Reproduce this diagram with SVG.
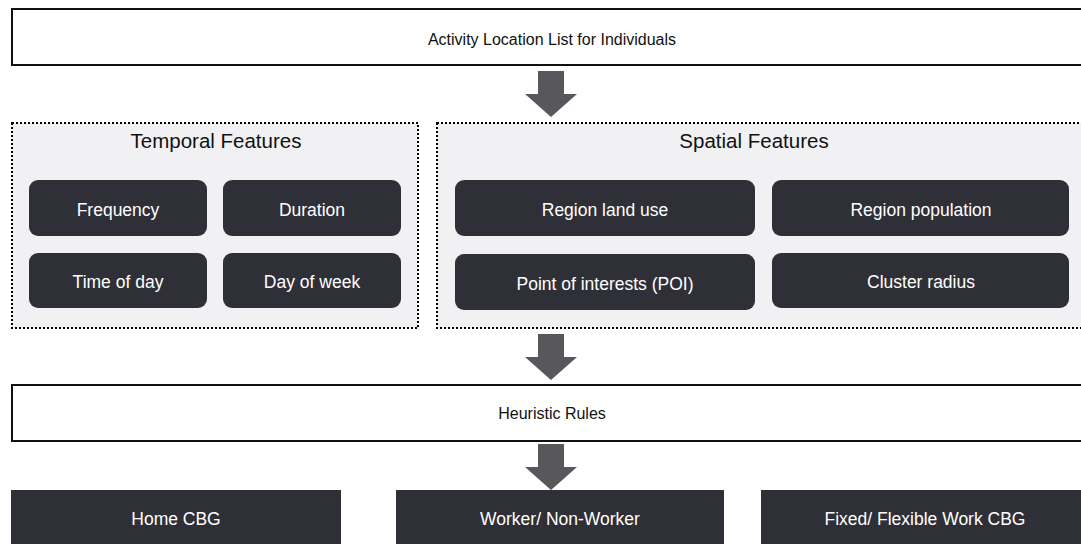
<svg xmlns="http://www.w3.org/2000/svg" width="1081" height="544" viewBox="0 0 1081 544">
  <defs>
    <style>
      .frame { fill: #ffffff; stroke: #111111; stroke-width: 2; }
      .group { fill: #f1f1f3; stroke: #000000; stroke-width: 2; stroke-dasharray: 2 2; }
      .dark { fill: #2f2f37; }
      .arrow { fill: #58585c; }
      .lbl { font-family: "Liberation Sans", Arial, sans-serif; text-anchor: middle; }
      .frame-t { fill: #111111; font-size: 16px; }
      .title-t { fill: #111111; font-size: 20.5px; }
      .box-t { fill: #ffffff; font-size: 17.5px; }
    </style>
  </defs>

  <g id="activity-list">
    <rect class="frame" x="12" y="9" width="1080" height="56"/>
    <text class="lbl frame-t" x="552" y="45">Activity Location List for Individuals</text>
  </g>

  <g id="temporal-features">
    <rect class="group" x="12" y="123" width="406" height="205"/>
    <text class="lbl title-t" x="216" y="148">Temporal Features</text>
  </g>
  <g id="frequency">
    <rect class="dark" x="29" y="180" width="178" height="56" rx="9"/>
    <text class="lbl box-t" x="118" y="216">Frequency</text>
  </g>
  <g id="duration">
    <rect class="dark" x="223" y="180" width="178" height="56" rx="9"/>
    <text class="lbl box-t" x="312" y="216">Duration</text>
  </g>
  <g id="time-of-day">
    <rect class="dark" x="29" y="253" width="178" height="55" rx="9"/>
    <text class="lbl box-t" x="118" y="288">Time of day</text>
  </g>
  <g id="day-of-week">
    <rect class="dark" x="223" y="253" width="178" height="55" rx="9"/>
    <text class="lbl box-t" x="312" y="288">Day of week</text>
  </g>

  <g id="spatial-features">
    <rect class="group" x="437" y="123" width="660" height="205"/>
    <text class="lbl title-t" x="754" y="148">Spatial Features</text>
  </g>
  <g id="region-land-use">
    <rect class="dark" x="455" y="180" width="300" height="56" rx="9"/>
    <text class="lbl box-t" x="605" y="216">Region land use</text>
  </g>
  <g id="region-population">
    <rect class="dark" x="772" y="180" width="297" height="56" rx="9"/>
    <text class="lbl box-t" x="921" y="216">Region population</text>
  </g>
  <g id="poi">
    <rect class="dark" x="455" y="254" width="300" height="56" rx="9"/>
    <text class="lbl box-t" x="605" y="290">Point of interests (POI)</text>
  </g>
  <g id="cluster-radius">
    <rect class="dark" x="772" y="253" width="297" height="55" rx="9"/>
    <text class="lbl box-t" x="921" y="288">Cluster radius</text>
  </g>

  <g id="heuristic-rules">
    <rect class="frame" x="12" y="385" width="1080" height="56"/>
    <text class="lbl frame-t" x="552" y="419">Heuristic Rules</text>
  </g>

  <g id="home-cbg">
    <rect class="dark" x="11" y="490" width="330" height="60"/>
    <text class="lbl box-t" x="176" y="525">Home CBG</text>
  </g>
  <g id="worker">
    <rect class="dark" x="396" y="490" width="328" height="60"/>
    <text class="lbl box-t" x="560" y="525">Worker/ Non-Worker</text>
  </g>
  <g id="work-cbg">
    <rect class="dark" x="761" y="490" width="330" height="60"/>
    <text class="lbl box-t" x="925" y="525">Fixed/ Flexible Work CBG</text>
  </g>

  <g id="connectors">
    <polygon class="arrow" points="538,71 564,71 564,94 577,94 551,117 525,94 538,94"/>
    <polygon class="arrow" points="538,334 564,334 564,357 577,357 551,380 525,357 538,357"/>
    <polygon class="arrow" points="538,444 564,444 564,467 577,467 551,490 525,467 538,467"/>
  </g>
</svg>
